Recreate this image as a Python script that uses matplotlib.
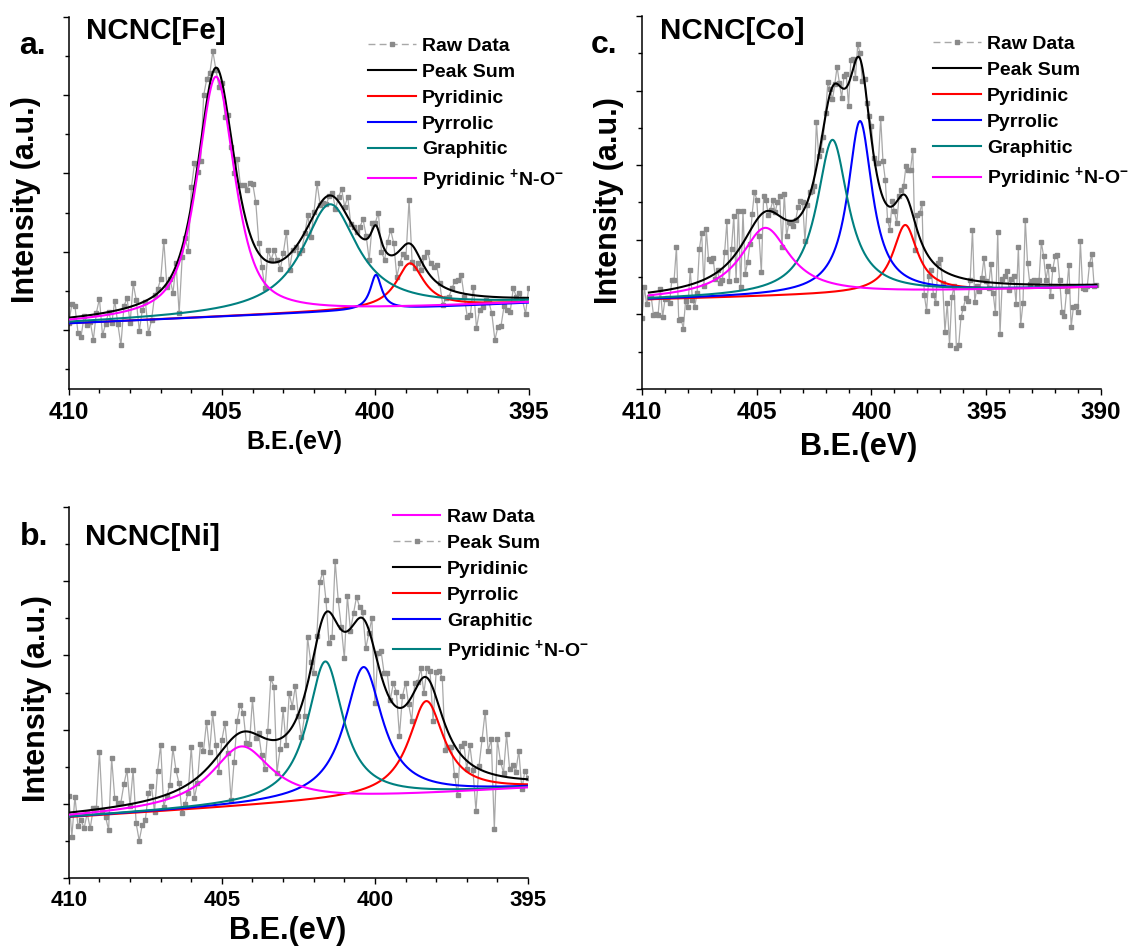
import numpy as np
import matplotlib
matplotlib.use("Agg")
import matplotlib.pyplot as plt
from matplotlib.lines import Line2D
from matplotlib.ticker import FixedLocator, MultipleLocator, FormatStrFormatter

plt.rcParams['font.family'] = ['Liberation Sans', 'DejaVu Sans']
plt.rcParams['font.weight'] = 'bold'
plt.rcParams['mathtext.fontset'] = 'custom'
plt.rcParams['mathtext.rm'] = 'Liberation Sans:bold'
plt.rcParams['mathtext.bf'] = 'Liberation Sans:bold'
plt.rcParams['mathtext.it'] = 'Liberation Sans:bold'
plt.rcParams['mathtext.sf'] = 'Liberation Sans:bold'

# ---------------- data ----------------
# N1s scans, binding energy starting at 410 eV, 0.1 eV steps (intensity, a.u.)
SCAN_START = 410.0
SCAN_STEP = 0.1

fe_raw = [
    197, 255, 249, 169, 157, 219, 192, 202, 147, 229,
    271, 161, 195, 231, 197, 265, 195, 131, 249, 273,
    197, 317, 267, 175, 237, 262, 167, 207, 281, 299,
    331, 445, 307, 329, 289, 377, 227, 397, 452, 415,
    605, 677, 652, 684, 881, 930, 947, 1013, 957, 907,
    917, 815, 821, 725, 649, 691, 611, 612, 597, 617,
    616, 560, 437, 365, 302, 417, 387, 417, 387, 359,
    409, 472, 357, 417, 427, 409, 417, 467, 521, 457,
    532, 617, 552, 557, 555, 579, 589, 539, 577, 599,
    547, 577, 494, 487, 472, 487, 509, 460, 387, 497,
    499, 529, 412, 387, 442, 477, 437, 337, 377, 405,
    397, 567, 382, 362, 377, 357, 397, 412, 377, 367,
    372, 317, 252, 272, 277, 302, 325, 327, 342, 277,
    217, 222, 307, 182, 237, 247, 267, 262, 227, 147,
    187, 189, 249, 237, 232, 302, 277, 287, 267, 225,
    302,
]

co_raw = [
    212, 304, 255, 277, 277, 222, 224, 222, 299, 215,
    269, 272, 257, 327, 327, 425, 207, 211, 181, 265,
    245, 357, 267, 247, 287, 419, 467, 307, 479, 389,
    384, 391, 329, 355, 317, 325, 409, 502, 322, 419,
    519, 325, 534, 304, 534, 345, 380, 434, 524, 591,
    567, 457, 349, 579, 567, 522, 537, 565, 529, 559,
    577, 425, 585, 457, 499, 497, 487, 507, 545, 562,
    559, 442, 552, 589, 592, 609, 800, 697, 717, 755,
    827, 919, 897, 867, 912, 965, 917, 872, 937, 942,
    847, 985, 987, 932, 1032, 1007, 922, 927, 857, 817,
    787, 692, 677, 677, 812, 682, 627, 507, 477, 562,
    532, 497, 577, 597, 607, 667, 657, 657, 717, 417,
    522, 527, 557, 282, 234, 337, 357, 282, 257, 377,
    389, 317, 172, 257, 132, 277, 307, 122, 132, 215,
    242, 272, 265, 327, 477, 262, 307, 292, 332, 392,
    322, 302, 375, 287, 227, 469, 165, 329, 337, 352,
    295, 329, 337, 255, 425, 192, 257, 507, 377, 315,
    322, 325, 311, 325, 440, 397, 327, 367, 279, 359,
    397, 401, 325, 232, 219, 292, 372, 185, 247, 249,
    232, 442, 302, 299, 307, 374, 405, 309, 311,
]

ni_raw = [
    247, 125, 245, 157, 175, 150, 195, 150, 210, 210,
    380, 205, 185, 145, 360, 242, 227, 227, 282, 325,
    217, 325, 165, 113, 160, 175, 255, 277, 200, 322,
    400, 215, 247, 280, 390, 325, 285, 195, 223, 257,
    395, 240, 285, 403, 383, 470, 380, 495, 400, 320,
    415, 465, 375, 235, 350, 473, 520, 495, 407, 403,
    537, 420, 435, 369, 327, 443, 600, 575, 317, 387,
    507, 400, 555, 515, 577, 487, 425, 487, 723, 650,
    617, 727, 890, 920, 835, 705, 723, 953, 835, 755,
    660, 847, 743, 795, 845, 813, 800, 690, 735, 780,
    525, 677, 682, 615, 617, 535, 585, 560, 428, 547,
    587, 522, 473, 585, 590, 630, 555, 630, 622, 472,
    620, 623, 600, 385, 393, 393, 310, 250, 398, 405,
    327, 400, 325, 203, 337, 417, 500, 383, 417, 147,
    417, 350, 317, 432, 327, 340, 320, 383, 267, 323,
    300,
]

# Fitted components: Pyridinic, Pyrrolic, Graphitic, Pyridinic N-O
# (pseudo-Voigt: centre, FWHM, height, Lorentzian fraction)
fe_center = [398.87, 399.98, 401.48, 405.20]
fe_fwhm = [1.10, 0.45, 2.20, 1.45]
fe_height = [134, 104, 322, 720]
fe_lorentz = [1.0, 1.0, 1.0, 0.7]
fe_background = [197, 259]          # linear background at the two fit ends
fe_fit_span = [410.0, 395.0]

co_center = [398.53, 400.50, 401.70, 404.63]
co_fwhm = [1.30, 1.30, 1.65, 2.60]
co_height = [202, 517, 463, 205]
co_lorentz = [1.0, 1.0, 1.0, 1.0]
co_background = [268, 305]
co_fit_span = [409.7, 390.2]

ni_center = [398.32, 400.37, 401.62, 404.36]
ni_fwhm = [1.40, 1.50, 1.40, 2.40]
ni_height = [281, 395, 419, 180]
ni_lorentz = [1.0, 1.0, 1.0, 1.0]
ni_background = [183, 270]
ni_fit_span = [410.0, 395.0]

# ---------------- styling ----------------
W, H = 1128, 947
RED, BLUE, TEAL, MAGENTA = '#FF0000', '#0000FF', '#008080', '#FF00FF'
RAW_LINE, RAW_MARK = '#a8a8a8', '#8a8a8a'
COMP_COLORS = [RED, BLUE, TEAL, MAGENTA]
NO_LABEL = r'Pyridinic $^{+}$N-O$^{-}$'


def fx(px):
    return px / W


def fy(py):
    return 1.0 - py / H


def pseudo_voigt(x, c, w, h, eta):
    u = 2.0 * (x - c) / w
    lor = 1.0 / (1.0 + u ** 2)
    gau = np.exp(-np.log(2.0) * u ** 2)
    return h * (eta * lor + (1.0 - eta) * gau)


def draw_panel(ax, raw, center, fwhm, height, lorentz, background, span):
    be = SCAN_START - SCAN_STEP * np.arange(len(raw))
    ax.plot(be, raw, color=RAW_LINE, lw=0.9, marker='s', ms=2.6,
            mfc=RAW_MARK, mec=RAW_MARK, zorder=1)
    x = np.linspace(span[0], span[1], 1500)
    bg = background[0] + (background[1] - background[0]) * (x - span[0]) / (span[1] - span[0])
    comps = [pseudo_voigt(x, c, w, h, e) for c, w, h, e in zip(center, fwhm, height, lorentz)]
    ax.plot(x, bg + np.sum(comps, axis=0), color='black', lw=1.5, zorder=2)
    for i, (comp, col) in enumerate(zip(comps, COMP_COLORS)):
        ax.plot(x, bg + comp, color=col, lw=1.5, zorder=3 + i)


def style_axes(ax, xlim, ylim, ymajor, yminor, tick_size):
    ax.set_xlim(*xlim)
    ax.set_ylim(*ylim)
    for s in ('top', 'right'):
        ax.spines[s].set_visible(False)
    for s in ('left', 'bottom'):
        ax.spines[s].set_linewidth(1.1)
    ax.xaxis.set_major_locator(MultipleLocator(5))
    ax.xaxis.set_minor_locator(MultipleLocator(1))
    ax.xaxis.set_major_formatter(FormatStrFormatter('%d'))
    ax.yaxis.set_major_locator(FixedLocator(ymajor))
    ax.yaxis.set_minor_locator(FixedLocator(yminor))
    ax.tick_params(which='both', direction='out', width=1.0)
    ax.tick_params(which='major', length=4.5)
    ax.tick_params(which='minor', length=2.8)
    ax.tick_params(axis='x', which='major', labelsize=tick_size, pad=4)
    ax.tick_params(axis='y', labelleft=False)
    for lab in ax.get_xticklabels():
        lab.set_fontweight('bold')


def raw_handle():
    return Line2D([], [], color=RAW_LINE, lw=1.0, ls=(0, (5, 3)), marker='s', ms=3,
                  mfc=RAW_MARK, mec=RAW_MARK)


def line_handle(color):
    return Line2D([], [], color=color, lw=1.5)


fig = plt.figure(figsize=(W / 100, H / 100), dpi=100)

# panel boxes in figure pixels: left, top, right, bottom
ax_a = fig.add_axes([fx(68.8), fy(389), fx(528.6) - fx(68.8), fy(16.8) - fy(389)])
ax_c = fig.add_axes([fx(642), fy(389), fx(1101) - fx(642), fy(16) - fy(389)])
ax_b = fig.add_axes([fx(68.8), fy(878.3), fx(528) - fx(68.8), fy(506.7) - fy(878.3)])

draw_panel(ax_a, fe_raw, fe_center, fe_fwhm, fe_height, fe_lorentz, fe_background, fe_fit_span)
draw_panel(ax_c, co_raw, co_center, co_fwhm, co_height, co_lorentz, co_background, co_fit_span)
draw_panel(ax_b, ni_raw, ni_center, ni_fwhm, ni_height, ni_lorentz, ni_background, ni_fit_span)

style_axes(ax_a, (410, 395), (0, 1116.5),
           np.arange(176.5, 1117, 235), np.arange(59, 1117, 235), 17.5)
style_axes(ax_c, (410, 390), (0, 1117),
           np.arange(0, 1118, 223.4), np.arange(111.7, 1118, 223.4), 17.5)
style_axes(ax_b, (410, 395), (0, 1115),
           np.arange(0, 1116, 223), np.arange(111.5, 1116, 223), 16)

# axis labels
for ax, xl_size, xl_pos, yl_pos in [
        (ax_a, 18, (0.491, -0.143), (-0.092, 0.508)),
        (ax_c, 22, (0.473, -0.155), (-0.072, 0.504)),
        (ax_b, 22, (0.476, -0.143), (-0.070, 0.483))]:
    ax.set_xlabel('B.E.(eV)', fontsize=xl_size, fontweight='bold')
    ax.set_ylabel('Intensity (a.u.)', fontsize=22, fontweight='bold')
    ax.xaxis.set_label_coords(*xl_pos)
    ax.yaxis.set_label_coords(*yl_pos)
    ax.xaxis.label.set_verticalalignment('center')
    ax.yaxis.label.set_verticalalignment('center')

# panel letters and sample names
fig.text(fx(19.6), fy(54), 'a.', fontsize=23, fontweight='bold', va='baseline')
fig.text(fx(590.5), fy(53.3), 'c.', fontsize=23, fontweight='bold', va='baseline')
fig.text(fx(20), fy(545), 'b.', fontsize=23, fontweight='bold', va='baseline')
fig.text(fx(85.7), fy(39.3), 'NCNC[Fe]', fontsize=21.3, fontweight='bold', va='baseline')
fig.text(fx(659.7), fy(39.3), 'NCNC[Co]', fontsize=21.3, fontweight='bold', va='baseline')
fig.text(fx(85.4), fy(545), 'NCNC[Ni]', fontsize=21.3, fontweight='bold', va='baseline')

labels = ['Raw Data', 'Peak Sum', 'Pyridinic', 'Pyrrolic', 'Graphitic', NO_LABEL]
std_handles = [raw_handle(), line_handle('black'), line_handle(RED),
               line_handle(BLUE), line_handle(TEAL), line_handle(MAGENTA)]
ni_handles = [line_handle(MAGENTA), raw_handle(), line_handle('black'),
              line_handle(RED), line_handle(BLUE), line_handle(TEAL)]

leg_kw = dict(frameon=False, fontsize=14, handlelength=2.45, handletextpad=0.33,
              labelspacing=0.43, borderpad=0, borderaxespad=0, numpoints=1,
              loc='upper left', bbox_transform=fig.transFigure)
for ax, handles, (lx, ly) in [(ax_a, std_handles, (368, 37)),
                              (ax_c, std_handles, (933, 35.5)),
                              (ax_b, ni_handles, (392.7, 508))]:
    leg = ax.legend(handles, labels, bbox_to_anchor=(fx(lx), fy(ly)), **leg_kw)
    for t in leg.get_texts():
        t.set_fontweight('bold')

fig.savefig('out.png', dpi=100)
